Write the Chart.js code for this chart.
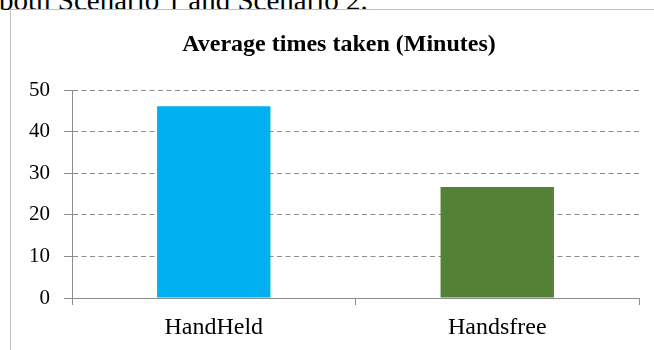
<!DOCTYPE html>
<html>
<head>
<meta charset="utf-8">
<script src="https://cdn.jsdelivr.net/npm/chart.js@4"></script>
<style>
  html, body { margin: 0; padding: 0; background: #fff; }
  body { width: 654px; height: 350px; position: relative; overflow: hidden; }
  .para {
    position: absolute; left: -1px; top: -14px; white-space: nowrap;
    font: 29px/29px "Liberation Serif", serif; color: #000;
  }
  .frame {
    position: absolute; left: 10px; top: 9px; width: 700px; height: 400px;
    border: 1px solid #bfbfbf;
  }
  #chart { position: absolute; left: 0; top: 0; }
</style>
</head>
<body>
<div class="para">both Scenario 1 and Scenario 2.</div>
<div class="frame"></div>
<canvas id="chart" width="654" height="350"></canvas>
<script>
// values
const categories = ['HandHeld', 'Handsfree'];
const avgMinutes = [46.1, 26.7];
const barColors = ['#00b0f0', '#538135'];
const yTicks = [0, 10, 20, 30, 40, 50];

const serif = '"Liberation Serif", "Times New Roman", serif';
const axisGray = '#8c8c8c';

new Chart(document.getElementById('chart'), {
    type: 'bar',
    data: {
        labels: categories,
        datasets: [{
            label: 'Average times taken (Minutes)',
            data: avgMinutes,
            backgroundColor: barColors,
            borderWidth: 0,
            barPercentage: 0.4,
            categoryPercentage: 1.0,
        }]
    },
    options: {
        responsive: false,
        animation: false,
        layout: { autoPadding: false, padding: { left: 27, right: 15, top: 0, bottom: 0 } },
        plugins: {
            legend: { display: false },
            tooltip: { enabled: false },
            title: {
                display: true,
                // two leading spaces nudge the centred title right, as in the reference
                text: '  Average times taken (Minutes)',
                color: '#000',
                font: { family: serif, size: 24, weight: 'bold' },
                padding: { top: 30.5, bottom: 30.7 },
            },
        },
        scales: {
            x: {
                grid: { display: true, drawOnChartArea: false, tickLength: 7, color: axisGray, offset: true },
                border: { display: true, color: axisGray, width: 1 },
                ticks: { color: '#000', font: { family: serif, size: 24 }, padding: 8, maxRotation: 0 },
                afterFit: s => { s.height = 52; },
            },
            y: {
                min: yTicks[0],
                max: yTicks[yTicks.length - 1],
                grid: { color: axisGray, tickLength: 8, tickColor: axisGray, tickBorderDash: [] },
                border: { display: true, color: axisGray, width: 1, dash: [5, 3.5] },
                ticks: {
                    stepSize: yTicks[1] - yTicks[0],
                    color: '#000',
                    font: { family: serif, size: 21 },
                    padding: 14,
                },
                afterFit: s => { s.width = 72 - 27; },
            }
        }
    }
});
</script>
</body>
</html>
